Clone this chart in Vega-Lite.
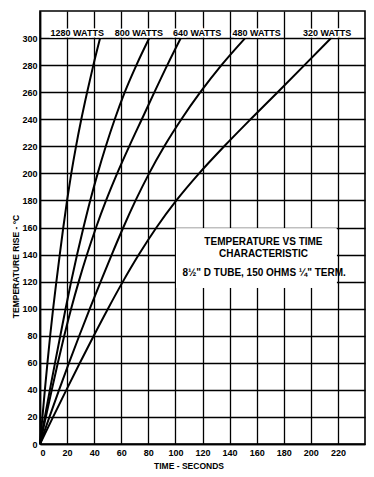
{
  "$schema": "https://vega.github.io/schema/vega-lite/v6.json",
  "autosize": {"type": "none"},
  "width": 325,
  "height": 433,
  "padding": {"left": 40, "top": 11, "right": 9, "bottom": 33},
  "background": "white",
  "config": {
    "font": "Liberation Sans",
    "view": {"stroke": "black", "strokeWidth": 1.6},
    "axis": {
      "grid": true,
      "gridColor": "black",
      "gridOpacity": 1,
      "gridWidth": 1.3,
      "domainColor": "black",
      "domainWidth": 1.6,
      "ticks": false,
      "labelFont": "Liberation Sans",
      "labelFontWeight": "bold",
      "labelFontSize": 9,
      "labelColor": "black",
      "labelOverlap": false,
      "titleFont": "Liberation Sans",
      "titleFontWeight": "bold",
      "titleFontSize": 8.5,
      "titleColor": "black"
    }
  },
  "datasets": {
    "curves": [
      {"watts": 1280, "t": 0, "temp": 0}, {"watts": 1280, "t": 1.8, "temp": 20}, {"watts": 1280, "t": 3.6, "temp": 40}, {"watts": 1280, "t": 5.5, "temp": 60}, {"watts": 1280, "t": 7.5, "temp": 80}, {"watts": 1280, "t": 9.7, "temp": 100}, {"watts": 1280, "t": 12.1, "temp": 120}, {"watts": 1280, "t": 14.6, "temp": 140}, {"watts": 1280, "t": 17.2, "temp": 160}, {"watts": 1280, "t": 20, "temp": 180}, {"watts": 1280, "t": 23.1, "temp": 200}, {"watts": 1280, "t": 26.6, "temp": 220}, {"watts": 1280, "t": 30.5, "temp": 240}, {"watts": 1280, "t": 34.8, "temp": 260}, {"watts": 1280, "t": 39.4, "temp": 280}, {"watts": 1280, "t": 44.4, "temp": 300},
      {"watts": 800, "t": 0, "temp": 0}, {"watts": 800, "t": 3.6, "temp": 20}, {"watts": 800, "t": 7.3, "temp": 40}, {"watts": 800, "t": 11.1, "temp": 60}, {"watts": 800, "t": 15, "temp": 80}, {"watts": 800, "t": 18.9, "temp": 100}, {"watts": 800, "t": 23, "temp": 120}, {"watts": 800, "t": 27.4, "temp": 140}, {"watts": 800, "t": 32.1, "temp": 160}, {"watts": 800, "t": 37.1, "temp": 180}, {"watts": 800, "t": 42.6, "temp": 200}, {"watts": 800, "t": 48.6, "temp": 220}, {"watts": 800, "t": 55.2, "temp": 240}, {"watts": 800, "t": 62.6, "temp": 260}, {"watts": 800, "t": 71.2, "temp": 280}, {"watts": 800, "t": 80.7, "temp": 300},
      {"watts": 640, "t": 0, "temp": 0}, {"watts": 640, "t": 4.3, "temp": 20}, {"watts": 640, "t": 8.7, "temp": 40}, {"watts": 640, "t": 13.2, "temp": 60}, {"watts": 640, "t": 17.9, "temp": 80}, {"watts": 640, "t": 23, "temp": 100}, {"watts": 640, "t": 28.6, "temp": 120}, {"watts": 640, "t": 34.7, "temp": 140}, {"watts": 640, "t": 41.4, "temp": 160}, {"watts": 640, "t": 48.8, "temp": 180}, {"watts": 640, "t": 57, "temp": 200}, {"watts": 640, "t": 65.9, "temp": 220}, {"watts": 640, "t": 75.2, "temp": 240}, {"watts": 640, "t": 84.5, "temp": 260}, {"watts": 640, "t": 94, "temp": 280}, {"watts": 640, "t": 104, "temp": 300},
      {"watts": 480, "t": 0, "temp": 0}, {"watts": 480, "t": 7, "temp": 20}, {"watts": 480, "t": 14.1, "temp": 40}, {"watts": 480, "t": 21.4, "temp": 60}, {"watts": 480, "t": 29, "temp": 80}, {"watts": 480, "t": 36.8, "temp": 100}, {"watts": 480, "t": 44.8, "temp": 120}, {"watts": 480, "t": 53, "temp": 140}, {"watts": 480, "t": 61.5, "temp": 160}, {"watts": 480, "t": 70.6, "temp": 180}, {"watts": 480, "t": 80.6, "temp": 200}, {"watts": 480, "t": 91.8, "temp": 220}, {"watts": 480, "t": 104.4, "temp": 240}, {"watts": 480, "t": 118.4, "temp": 260}, {"watts": 480, "t": 134, "temp": 280}, {"watts": 480, "t": 151.5, "temp": 300},
      {"watts": 320, "t": 0, "temp": 0}, {"watts": 320, "t": 9.7, "temp": 20}, {"watts": 320, "t": 19.5, "temp": 40}, {"watts": 320, "t": 29.5, "temp": 60}, {"watts": 320, "t": 39.7, "temp": 80}, {"watts": 320, "t": 50.2, "temp": 100}, {"watts": 320, "t": 61.2, "temp": 120}, {"watts": 320, "t": 73, "temp": 140}, {"watts": 320, "t": 86, "temp": 160}, {"watts": 320, "t": 100.7, "temp": 180}, {"watts": 320, "t": 117.5, "temp": 200}, {"watts": 320, "t": 136, "temp": 220}, {"watts": 320, "t": 155.5, "temp": 240}, {"watts": 320, "t": 175.5, "temp": 260}, {"watts": 320, "t": 195.3, "temp": 280}, {"watts": 320, "t": 215, "temp": 300}
    ],
    "labels": [
      {"label": "1280 WATTS", "t": 27.5, "temp": 301.8},
      {"label": "800 WATTS", "t": 73, "temp": 301.8},
      {"label": "640 WATTS", "t": 116, "temp": 301.8},
      {"label": "480 WATTS", "t": 160, "temp": 301.8},
      {"label": "320 WATTS", "t": 212, "temp": 301.8}
    ],
    "notes": [
      {"note": "TEMPERATURE VS TIME", "t": 165, "temp": 149},
      {"note": "CHARACTERISTIC", "t": 165, "temp": 140.2},
      {"note": "8½\" D TUBE, 150 OHMS ¼\" TERM.", "t": 165.5, "temp": 126.2}
    ]
  },
  "encoding": {
    "x": {
      "field": "t", "type": "quantitative",
      "scale": {"domain": [0, 240], "nice": false},
      "axis": {
        "values": [0, 20, 40, 60, 80, 100, 120, 140, 160, 180, 200, 220],
        "title": "TIME - SECONDS",
        "labelPadding": 4,
        "titleX": 148.5,
        "titleY": 21,
        "titleBaseline": "middle"
      }
    },
    "y": {
      "field": "temp", "type": "quantitative",
      "scale": {"domain": [0, 320], "nice": false},
      "axis": {
        "values": [0, 20, 40, 60, 80, 100, 120, 140, 160, 180, 200, 220, 240, 260, 280, 300],
        "title": "TEMPERATURE RISE - °C",
        "labelPadding": 3,
        "titleX": -25,
        "titleY": 255,
        "titleBaseline": "middle"
      }
    }
  },
  "layer": [
    {
      "data": {"name": "notes"},
      "mark": {"type": "rect", "fill": "white", "stroke": null},
      "encoding": {
        "x": {"datum": 100.5, "type": "quantitative"},
        "x2": {"datum": 219},
        "y": {"datum": 115.5, "type": "quantitative"},
        "y2": {"datum": 159.3}
      }
    },
    {
      "data": {"name": "curves"},
      "mark": {"type": "line", "color": "black", "strokeWidth": 2, "interpolate": "monotone"},
      "encoding": {
        "detail": {"field": "watts", "type": "nominal"}
      }
    },
    {
      "data": {"name": "labels"},
      "mark": {"type": "text", "font": "Liberation Sans", "fontWeight": "bold", "fontSize": 9, "color": "black", "stroke": "white", "strokeWidth": 3, "baseline": "alphabetic", "align": "center"},
      "encoding": {
        "text": {"field": "label"}
      }
    },
    {
      "data": {"name": "labels"},
      "mark": {"type": "text", "font": "Liberation Sans", "fontWeight": "bold", "fontSize": 9, "color": "black", "baseline": "alphabetic", "align": "center"},
      "encoding": {
        "text": {"field": "label"}
      }
    },
    {
      "data": {"name": "notes"},
      "mark": {"type": "text", "font": "Liberation Sans", "fontWeight": "bold", "fontSize": 10, "color": "black", "baseline": "middle", "align": "center"},
      "encoding": {
        "text": {"field": "note"}
      }
    }
  ]
}
